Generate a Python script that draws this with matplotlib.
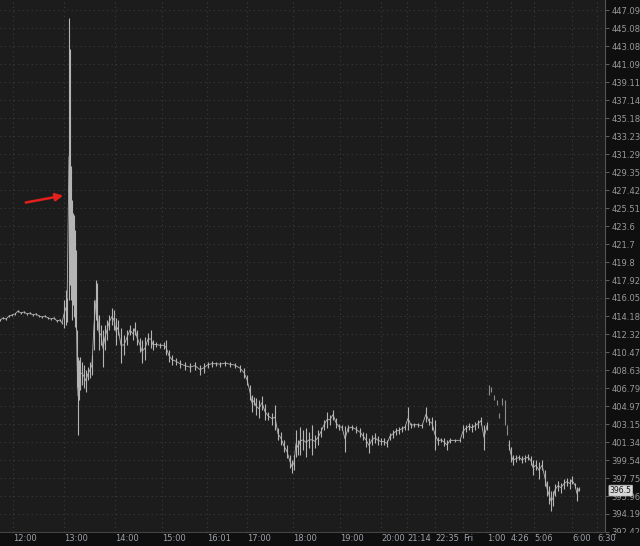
import matplotlib
matplotlib.use('Agg')
import matplotlib.pyplot as plt
import matplotlib.transforms as mtransforms
from matplotlib.patches import Rectangle
from matplotlib.ticker import FixedLocator, NullLocator

# price bars (bar position, low, high) - morning to late evening
body_x = [0, 3, 6, 9, 12, 15, 18, 21, 24, 27,
          30, 33, 36, 39, 42, 45, 48, 51, 54, 57,
          60, 62, 64, 66, 67, 69, 70, 71, 72, 73,
          74, 75, 76, 77, 78, 79, 80, 82, 84, 86,
          88, 90, 92, 94, 96, 97, 99, 101, 103, 105,
          107, 109, 112, 114, 116, 118, 121, 124, 127, 130,
          133, 135, 137, 140, 142, 145, 148, 151, 153, 156,
          160, 164, 166, 169, 172, 176, 180, 185, 190, 195,
          200, 204, 208, 212, 216, 220, 225, 230, 235, 240,
          244, 247, 250, 252, 254, 256, 259, 262, 265, 268,
          272, 275, 278, 281, 284, 287, 290, 292, 294, 296,
          298, 300, 303, 306, 309, 312, 315, 318, 321, 324,
          327, 330, 333, 336, 339, 342, 345, 348, 352, 356,
          360, 363, 366, 369, 372, 375, 378, 381, 384, 387,
          390, 393, 396, 399, 402, 405, 408, 411, 414, 418,
          422, 426, 429, 432, 435, 438, 441, 444, 447, 450,
          455, 460, 463, 466, 469, 472, 475, 478, 481, 484, 487]
body_lo = [413.67, 413.88, 413.77, 414.08, 414.19, 414.29, 414.60, 414.39, 414.50, 414.29,
           414.39, 414.19, 414.29, 414.08, 413.98, 414.08, 413.88, 413.77, 413.88, 413.57,
           413.67, 413.36, 412.94, 413.25, 413.56, 415.84, 417.40, 415.84, 413.77, 415.32,
           414.08, 413.04, 412.73, 406.94, 402.03, 405.57, 406.59, 407.10, 406.79, 406.38,
           407.60, 407.80, 408.11, 410.70, 413.77, 412.73, 410.70, 411.20, 408.97, 410.70,
           411.71, 412.73, 413.25, 412.73, 411.20, 412.22, 409.38, 410.19, 411.20, 412.22,
           411.71, 412.22, 411.20, 410.49, 409.38, 409.68, 411.20, 410.90, 410.70, 411.00,
           410.90, 410.80, 410.19, 409.48, 409.17, 409.17, 408.87, 408.67, 408.46, 408.67,
           408.16, 408.36, 408.87, 408.97, 409.07, 408.97, 409.07, 408.97, 408.87, 408.46,
           407.85, 407.14, 405.62, 404.40, 405.11, 404.10, 403.79, 404.60, 403.59, 403.59,
           403.08, 402.57, 401.56, 401.05, 400.34, 399.73, 398.72, 398.21, 398.51, 399.83,
           400.04, 400.04, 400.54, 399.83, 400.75, 400.04, 400.75, 401.05, 401.86, 402.57,
           402.78, 403.08, 403.59, 402.78, 402.57, 402.57, 400.34, 402.37, 402.57, 402.27,
           401.86, 401.56, 400.85, 400.24, 401.05, 401.26, 401.05, 401.05, 401.05, 400.85,
           401.56, 401.76, 402.07, 402.17, 402.37, 402.57, 402.57, 402.78, 402.88, 402.88,
           402.78, 403.39, 403.08, 402.57, 400.54, 401.05, 401.36, 400.95, 400.54, 401.26,
           401.36, 401.36, 401.76, 402.37, 402.57, 402.37, 402.57, 402.78, 403.08, 400.54, 402.57]
body_hi = [413.87, 414.08, 413.97, 414.28, 414.39, 414.49, 414.80, 414.59, 414.70, 414.49,
           414.59, 414.39, 414.49, 414.28, 414.18, 414.28, 414.08, 413.97, 414.08, 413.77,
           413.87, 413.56, 415.84, 416.88, 416.05, 446.20, 442.75, 430.00, 426.36, 424.98,
           424.77, 423.18, 421.07, 412.73, 409.99, 409.68, 409.99, 409.48, 409.17, 408.67,
           408.97, 409.48, 410.19, 415.84, 417.91, 417.60, 414.29, 413.25, 412.73, 413.25,
           413.77, 414.29, 415.01, 414.80, 413.98, 413.77, 412.94, 412.22, 412.73, 413.25,
           412.94, 413.56, 412.73, 411.91, 411.71, 412.02, 412.42, 412.73, 411.71, 411.51,
           411.41, 411.51, 411.71, 410.70, 410.19, 409.88, 409.68, 409.48, 409.38, 409.48,
           409.17, 409.38, 409.48, 409.58, 409.48, 409.48, 409.58, 409.48, 409.38, 409.17,
           408.87, 408.16, 407.14, 406.13, 405.92, 405.82, 405.62, 406.02, 405.21, 404.40,
           404.30, 405.11, 402.78, 402.37, 401.56, 401.05, 400.04, 399.53, 400.04, 402.57,
           401.56, 402.88, 402.57, 402.78, 402.37, 403.08, 402.07, 402.57, 402.88, 403.59,
           404.40, 404.10, 404.60, 403.79, 403.18, 403.08, 402.98, 403.08, 403.08, 402.98,
           402.78, 402.37, 402.27, 401.76, 402.07, 402.27, 401.97, 401.76, 401.76, 401.56,
           402.27, 402.57, 402.78, 402.88, 402.98, 403.08, 404.91, 403.28, 403.28, 403.28,
           403.18, 404.91, 403.79, 403.89, 403.59, 401.86, 401.76, 401.76, 401.56, 401.76,
           401.66, 401.66, 403.08, 403.08, 403.28, 403.18, 403.39, 403.59, 403.89, 403.08, 403.39]

# thin overnight prints (not joined)
gap_x = [489, 491, 494, 497, 499, 502, 505, 507]
gap_lo = [406.08, 406.38, 405.57, 405.06, 403.79, 405.06, 403.08, 402.07]
gap_hi = [407.10, 406.89, 406.08, 405.57, 404.30, 405.77, 405.57, 403.08]

# Friday morning
tail_x = [509, 511, 513, 516, 519, 522, 525, 528, 531, 533,
          536, 539, 542, 545, 547, 549, 551, 553, 555, 558,
          561, 564, 567, 570, 572, 575, 577, 579]
tail_lo = [400.54, 399.33, 399.02, 399.33, 399.53, 399.22, 399.33, 399.53, 399.02, 398.01,
           398.51, 397.70, 398.51, 396.99, 395.98, 395.17, 394.46, 394.97, 395.98, 396.49,
           396.28, 396.69, 396.99, 396.69, 397.19, 396.79, 395.47, 396.49]
tail_hi = [401.56, 400.85, 400.04, 400.04, 400.04, 399.93, 400.04, 400.14, 399.93, 399.53,
           399.53, 399.33, 399.53, 398.51, 397.50, 396.99, 396.49, 396.49, 397.19, 397.50,
           397.30, 397.70, 397.80, 397.70, 397.91, 397.30, 396.89, 396.89]

last_price = 396.5

y_ticks = [447.09, 445.08, 443.08, 441.09, 439.11, 437.14, 435.18, 433.23, 431.29, 429.35,
           427.42, 425.51, 423.6, 421.7, 419.8, 417.92, 416.05, 414.18, 412.32, 410.47,
           408.63, 406.79, 404.97, 403.15, 401.34, 399.54, 397.75, 395.96, 394.19, 392.42]
y_tick_labels = ['447.09', '445.08', '443.08', '441.09', '439.11', '437.14', '435.18', '433.23',
                 '431.29', '429.35', '427.42', '425.51', '423.6', '421.7', '419.8', '417.92',
                 '416.05', '414.18', '412.32', '410.47', '408.63', '406.79', '404.97', '403.15',
                 '401.34', '399.54', '397.75', '395.96', '394.19', '392.42']
x_tick_pos = [13, 64, 115, 162, 207, 247, 293, 340, 381, 407, 435, 463, 487, 511, 534, 572, 597]
x_tick_labels = ['12:00', '13:00', '14:00', '15:00', '16:01', '17:00', '18:00', '19:00', '20:00',
                 '21:14', '22:35', 'Fri', '1:00', '4:26', '5:06', '6:00', '6:30']

fig = plt.figure(figsize=(6.4, 5.46), dpi=100, facecolor='#0f0f0f')
ax = fig.add_axes([0, 14 / 546, 605 / 640, 532 / 546])
ax.set_facecolor('#1c1c1c')

bar_col = '#b4b4b4'
for xs, lo, hi in [(body_x, body_lo, body_hi), (tail_x, tail_lo, tail_hi)]:
    mid = [(a + b) / 2 for a, b in zip(lo, hi)]
    ax.vlines(xs, lo, hi, color=bar_col, lw=0.8, zorder=3)
    ax.plot(xs, mid, color=bar_col, lw=0.6, zorder=3)
ax.vlines(gap_x, gap_lo, gap_hi, color='#8c8c8c', lw=0.8, zorder=3)

ax.set_yscale('log')
ax.set_xlim(0, 605)
ax.set_ylim(392.42, 448.21)

ax.yaxis.tick_right()
ax.yaxis.set_major_locator(FixedLocator(y_ticks))
ax.yaxis.set_minor_locator(NullLocator())
ax.set_yticklabels(y_tick_labels)
ax.tick_params(axis='y', which='major', direction='out', length=3, width=0.6,
               color='#707070', labelcolor='#999999', labelsize=6, pad=1.5)

ax.set_xticks(x_tick_pos)
ax.set_xticklabels(x_tick_labels, ha='left')
ax.tick_params(axis='x', length=0, labelcolor='#9ea3ab', labelsize=6, pad=1.5)

ax.grid(True, color='#3a3a3a', linestyle=(0, (1, 3)), linewidth=0.8)
ax.set_axisbelow(True)

for s in ['top', 'left']:
    ax.spines[s].set_visible(False)
ax.spines['right'].set_color('#555555')
ax.spines['bottom'].set_color('#444444')

# last price tag on the price scale
trans = mtransforms.blended_transform_factory(ax.transAxes, ax.transData)
ax.text(1.008, last_price, '396.5', transform=trans, fontsize=5.5, color='#1a1a1a',
        va='center', ha='left', clip_on=False, zorder=5,
        bbox=dict(boxstyle='round,pad=0.12', fc='#d8d8d8', ec='#bbbbbb', lw=0.5))

# red arrow pointing at the spike
ax.annotate('', xy=(66, 426.89), xytext=(23, 426.04),
            arrowprops=dict(arrowstyle='-|>', color='#e3201b', lw=1.8, mutation_scale=11))

# bottom strip hides the lower half of the last price label (keeps "6:30" visible)
fig.add_artist(Rectangle((616 / 640, 0), 24 / 640, 13 / 546, transform=fig.transFigure,
                         fc='#0f0f0f', ec='none', zorder=10))

fig.savefig('out.png', dpi=100, facecolor=fig.get_facecolor())
